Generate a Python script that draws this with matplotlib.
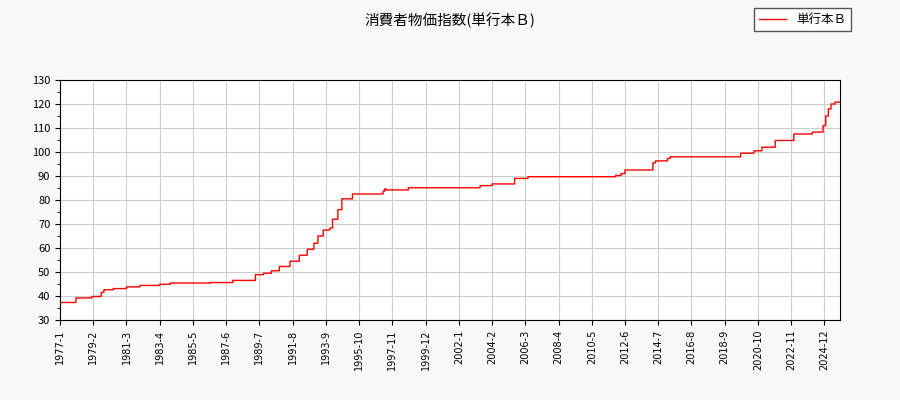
import numpy as np
import matplotlib
matplotlib.use("Agg")
import matplotlib.pyplot as plt

plt.rcParams['font.family'] = ['Noto Sans CJK JP', 'DejaVu Sans']

# change points: months since 1977-01 and the index value from that month on
change_month = [0, 12, 24, 31, 33, 40, 50, 60, 75, 83, 113, 130, 147, 153, 159, 165,
                173, 180, 186, 191, 194, 198, 203, 205, 209, 212, 220, 243, 244, 245,
                262, 316, 325, 342, 352, 418, 422, 425, 446, 448, 457, 459, 512, 522,
                528, 538, 552, 566, 574, 576, 578, 580, 583]
change_value = [37.3, 39.2, 39.8, 41.5, 42.6, 43.1, 43.8, 44.4, 44.9, 45.4, 45.6, 46.5,
                48.9, 49.5, 50.5, 52.3, 54.5, 57.0, 59.5, 62.0, 65.0, 67.5, 68.3, 72.0,
                76.0, 80.5, 82.5, 83.6, 84.6, 84.2, 85.1, 86.0, 86.7, 89.0, 89.7, 90.2,
                91.0, 92.5, 95.5, 96.3, 97.3, 98.0, 99.5, 100.5, 102.0, 104.8, 107.5,
                108.3, 111.0, 115.0, 118.0, 120.0, 120.8]
last_month = 587

months = np.arange(last_month + 1)
idx = np.searchsorted(change_month, months, side='right') - 1
values = np.array(change_value)[idx]

fig = plt.figure(figsize=(9, 4), dpi=100, facecolor='#f8f8f8')
ax = fig.add_axes([0.0667, 0.2, 0.867, 0.6])
ax.set_facecolor('white')
ax.step(months, values, where='post', color='red', lw=1.0, label='単行本Ｂ')
ax.set_xlim(0, last_month)
ax.set_ylim(30, 130)
ax.set_yticks(range(30, 131, 10))
ax.set_yticks(range(30, 131, 5), minor=True)
ticks = list(range(0, last_month, 25))
ax.set_xticks(ticks)
ax.set_xticklabels([f"{1977 + t // 12}-{t % 12 + 1}" for t in ticks], rotation=90, fontsize=7,
                   family=['DejaVu Sans'])
for lb in ax.get_yticklabels():
    lb.set_fontsize(8)
ax.grid(True, color='#cccccc', lw=0.8)
ax.set_axisbelow(True)
for s in ax.spines.values():
    s.set_color('black')
fig.suptitle('消費者物価指数(単行本Ｂ)', y=0.97, fontsize=10.5)
fig.legend(loc='upper right', bbox_to_anchor=(0.953, 0.995), fontsize=9, fancybox=False,
           edgecolor='#555555', framealpha=1, handlelength=2.2)
fig.savefig('out.png', dpi=100, facecolor=fig.get_facecolor())
